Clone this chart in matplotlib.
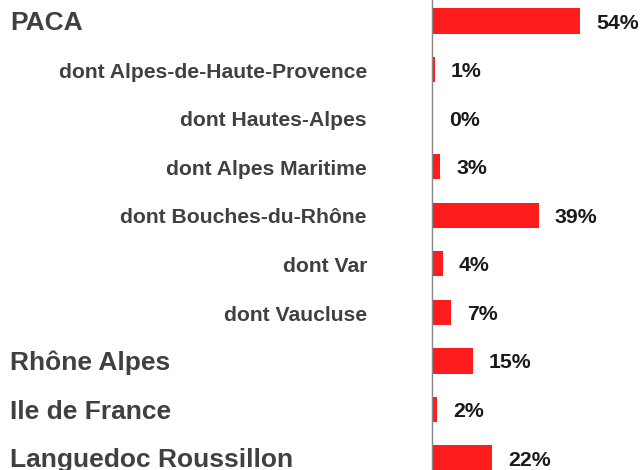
import numpy as np
import matplotlib.pyplot as plt
import matplotlib.transforms as mtransforms

plt.rcParams['font.family'] = ['Liberation Sans', 'DejaVu Sans']

regions = ['PACA', 'dont Alpes-de-Haute-Provence', 'dont Hautes-Alpes',
           'dont Alpes Maritime', 'dont Bouches-du-Rhône', 'dont Var',
           'dont Vaucluse', 'Rhône Alpes', 'Ile de France',
           'Languedoc Roussillon']
shares = [54, 1, 0.3, 3, 39, 4, 7, 15, 2, 22]
value_labels = ['54%', '1%', '0%', '3%', '39%', '4%', '7%', '15%', '2%', '22%']
is_sub = [False, True, True, True, True, True, True, False, False, False]

W, H = 642, 470
fig = plt.figure(figsize=(W / 100, H / 100), dpi=100)

# axis line sits at x=432 px, rows span from y=21 to y=458 px
row_px = (458 - 21) / 9
top_px = 21 - row_px / 2
bot_px = 458 + row_px / 2
ax = fig.add_axes([432 / W, (H - bot_px) / H, 208 / W, (bot_px - top_px) / H])

y = np.arange(len(regions))
ax.barh(y, shares, height=0.52, color='#ff1c1c', edgecolor='none')
ax.set_xlim(0, 208 / 2.74)
ax.set_ylim(len(regions) - 0.5, -0.5)

for s in ['top', 'right', 'bottom']:
    ax.spines[s].set_visible(False)
ax.spines['left'].set_color('#888888')
ax.spines['left'].set_linewidth(1)
ax.set_xticks([])
ax.set_yticks([])


def cap_off(fs):
    # shift baseline so capitals are centred on the row
    return -0.716 * fs / 2


trans = mtransforms.blended_transform_factory(fig.transFigure, ax.transData)
for i, (name, sub) in enumerate(zip(regions, is_sub)):
    if sub:
        fs = 15.2
        ax.annotate(name, xy=(367 / W, i), xycoords=trans,
                    xytext=(0, cap_off(fs) - 0.5), textcoords='offset points',
                    ha='right', va='baseline', fontsize=fs,
                    fontweight='bold', color='#404040')
    else:
        fs = 19
        ax.annotate(name, xy=(10 / W, i), xycoords=trans,
                    xytext=(0, cap_off(fs)), textcoords='offset points',
                    ha='left', va='baseline', fontsize=fs,
                    fontweight='bold', color='#404040')

for i, (v, lab) in enumerate(zip(shares, value_labels)):
    fs = 15.3
    ax.annotate(lab, xy=(v, i), xytext=(11.5, cap_off(fs)),
                textcoords='offset points', ha='left', va='baseline',
                fontsize=fs, fontweight='bold', color='#1a1a1a')

fig.savefig('out.png', dpi=100)
